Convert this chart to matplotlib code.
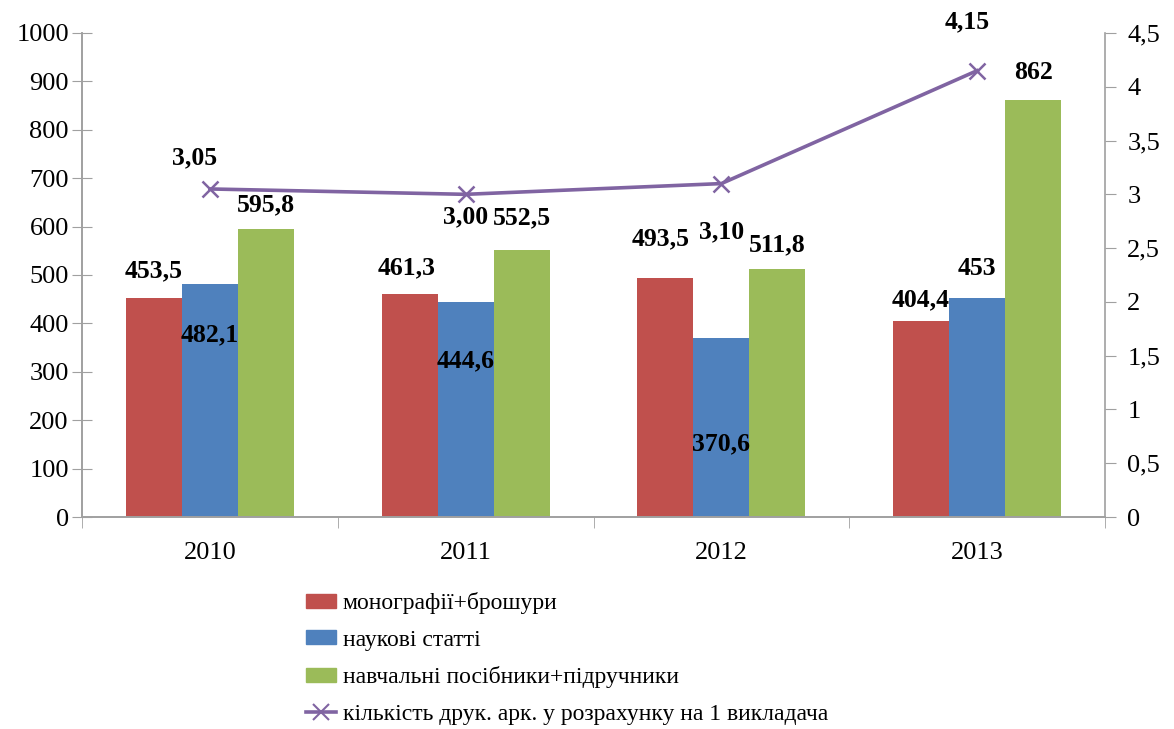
import matplotlib
matplotlib.use("Agg")
import matplotlib.pyplot as plt
import numpy as np
from matplotlib.lines import Line2D
from matplotlib.patches import Patch

years = ["2010", "2011", "2012", "2013"]
monographs = [453.5, 461.3, 493.5, 404.4]
articles = [482.1, 444.6, 370.6, 453.0]
textbooks = [595.8, 552.5, 511.8, 862.0]
sheets_per_teacher = [3.05, 3.00, 3.10, 4.15]

mono_labels = ["453,5", "461,3", "493,5", "404,4"]
art_labels = ["482,1", "444,6", "370,6", "453"]
text_labels = ["595,8", "552,5", "511,8", "862"]
line_labels = ["3,05", "3,00", "3,10", "4,15"]

series_names = ["монографії+брошури", "наукові статті",
                "навчальні посібники+підручники",
                "кількість друк. арк. у розрахунку на 1 викладача"]

# label offsets (data units) relative to mark top / x offsets in category units
mono_dx = [0.0, -0.01, -0.02, 0.0]
mono_dy = [55, 53, 82, 44]
art_dy = [-106, -121, -220, 61]
text_dy = [49, 65, 50, 57]
line_dx = [-0.06, 0.0, 0.0, -0.04]
line_dy = [0.29, -0.21, -0.45, 0.45]

plt.rcParams['font.family'] = ['Liberation Serif', 'DejaVu Serif']
red, blue, green, purple = "#C0504D", "#4F81BD", "#9BBB59", "#8064A2"

fig = plt.figure(figsize=(11.74, 7.29), dpi=100)
ax = fig.add_axes([82/1174, 1-517/729, (1105-82)/1174, (517-33)/729])
ax2 = ax.twinx()

x = np.arange(len(years))
w = 0.219
ax.bar(x - w, monographs, w, color=red, zorder=2)
ax.bar(x, articles, w, color=blue, zorder=2)
ax.bar(x + w, textbooks, w, color=green, zorder=2)

ax.set_xlim(-0.5, 3.5)
ax.set_ylim(0, 1000)
ax.set_yticks(np.arange(0, 1001, 100))
ax2.set_ylim(0, 4.5)
ax2.set_yticks(np.arange(0, 4.51, 0.5))
ax2.set_yticklabels(["0", "0,5", "1", "1,5", "2", "2,5", "3", "3,5", "4", "4,5"])

ax2.plot(x, sheets_per_teacher, color=purple, lw=2.6, marker='x', ms=12, mew=1.8, zorder=5)

bold = dict(fontsize=18.5, fontweight='bold', ha='center', va='center', color='black')
for i in range(4):
    ax.text(x[i] - w + mono_dx[i], monographs[i] + mono_dy[i], mono_labels[i], **bold)
    ax.text(x[i], articles[i] + art_dy[i], art_labels[i], **bold)
    ax.text(x[i] + w, textbooks[i] + text_dy[i], text_labels[i], **bold)
    ax2.text(x[i] + line_dx[i], sheets_per_teacher[i] + line_dy[i], line_labels[i],
             clip_on=False, **bold)

ax.set_xticks(x)
ax.set_xticklabels(years)
ax.set_xticks(np.arange(-0.5, 3.6, 1), minor=True)
ax.tick_params(axis='x', which='major', length=0, labelsize=19, pad=18)
ax.tick_params(axis='x', which='minor', length=8, color='#A0A0A0', direction='out')
ax.tick_params(axis='y', length=15, direction='inout', color='#A0A0A0', labelsize=19, pad=2)
ax2.tick_params(axis='y', length=8, direction='out', color='#A0A0A0', labelsize=19, pad=8)

for a in (ax, ax2):
    a.spines['top'].set_visible(False)
    for s in ('left', 'right', 'bottom'):
        a.spines[s].set_color('#A0A0A0')
        a.spines[s].set_linewidth(1.2)
ax.spines['right'].set_visible(False)

handles = [Patch(color=red), Patch(color=blue), Patch(color=green),
           Line2D([], [], color=purple, lw=2.6, marker='x', ms=12, mew=1.5)]
fig.legend(handles, series_names, loc='upper left', bbox_to_anchor=(306/1174, 1-592/729),
           frameon=False, fontsize=17, handlelength=1.25, handleheight=0.55,
           handletextpad=0.3, labelspacing=0.66, borderaxespad=0, borderpad=0)

fig.savefig("out.png", dpi=100)
